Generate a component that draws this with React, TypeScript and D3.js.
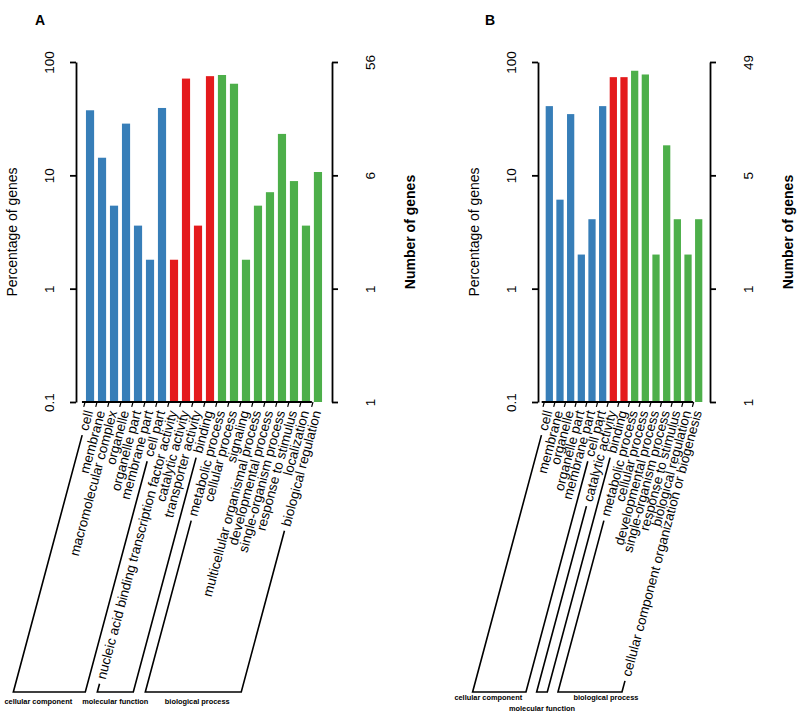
import { useEffect, useRef } from "react";
import * as d3 from "d3";

// GO functional categories (WEGO style), Set1 colours
const groupNames = ["cellular component", "molecular function", "biological process"];
const groupColors = ["#377EB8", "#E41A1C", "#4DAF4A"];

const percentTicks = [0.1, 1, 10, 100];

// panel A
const aTerms = [
  "cell",
  "membrane",
  "macromolecular complex",
  "organelle",
  "organelle part",
  "membrane part",
  "cell part",
  "nucleic acid binding transcription factor activity",
  "catalytic activity",
  "transporter activity",
  "binding",
  "metabolic process",
  "cellular process",
  "signaling",
  "multicellular organismal process",
  "developmental process",
  "single-organism process",
  "response to stimulus",
  "localization",
  "biological regulation",
];
const aTermGroups = [0, 0, 0, 0, 0, 0, 0, 1, 1, 1, 1, 2, 2, 2, 2, 2, 2, 2, 2, 2];
const aPercent = [37.5, 14.3, 5.4, 28.6, 3.6, 1.8, 39.3, 1.8, 71.4, 3.6, 75.0, 76.8, 64.3, 1.8, 5.4, 7.1, 23.2, 8.9, 3.6, 10.7];
const aGeneTicks = ["1", "1", "6", "56"];

// panel B
const bTerms = [
  "cell",
  "membrane",
  "organelle",
  "organelle part",
  "membrane part",
  "cell part",
  "catalytic activity",
  "binding",
  "metabolic process",
  "cellular process",
  "developmental process",
  "single-organism process",
  "response to stimulus",
  "biological regulation",
  "cellular component organization or biogenesis",
];
const bTermGroups = [0, 0, 0, 0, 0, 0, 1, 1, 2, 2, 2, 2, 2, 2, 2];
const bPercent = [40.8, 6.1, 34.7, 2.0, 4.1, 40.8, 73.5, 73.5, 83.7, 77.6, 2.0, 18.4, 4.1, 2.0, 4.1];
const bGeneTicks = ["1", "1", "5", "49"];

const panels = [
  {
    id: "A", terms: aTerms, groups: aTermGroups, values: aPercent, geneTicks: aGeneTicks,
    left: 76, right: 332, outerPad: 0.83, letterX: 35,
    groupLabelY: [704, 704, 704], groupLabelDx: [-11, 0, 4],
  },
  {
    id: "B", terms: bTerms, groups: bTermGroups, values: bPercent, geneTicks: bGeneTicks,
    left: 538, right: 710, outerPad: 0.72, letterX: 485,
    groupLabelY: [699.5, 710.5, 699.5], groupLabelDx: [-11, 0, 16],
  },
];

const FONT = "'Liberation Sans', Arial, sans-serif";
const TOP = 62;
const BASE = 402;
const BRACKET_Y = 692;
const ANGLE = 75;

export default function App() {
  const svgRef = useRef<SVGSVGElement>(null);

  useEffect(() => {
    document.body.style.margin = "0";
    if (!svgRef.current) return;
    const svg = d3.select(svgRef.current);
    svg.selectAll("*").remove();

    const rad = (ANGLE * Math.PI) / 180;
    const ux = -Math.cos(rad);
    const uy = Math.sin(rad);

    const y = d3.scaleLog().domain([0.1, 100]).range([BASE, TOP]);

    panels.forEach((p) => {
      const g = svg.append("g").attr("font-family", FONT);

      const x = d3
        .scaleBand()
        .domain(p.terms)
        .range([p.left, p.right])
        .paddingInner(0.32)
        .paddingOuter(p.outerPad);
      const bw = x.bandwidth();

      // bars
      g.selectAll(".bar")
        .data(p.terms)
        .enter()
        .append("rect")
        .attr("x", (d) => x(d)!)
        .attr("y", (d, i) => y(p.values[i]))
        .attr("width", bw)
        .attr("height", (d, i) => BASE - y(p.values[i]))
        .attr("fill", (d, i) => groupColors[p.groups[i]]);

      // left axis (percentage)
      const la = g
        .append("g")
        .attr("transform", `translate(${p.left},0)`)
        .call(d3.axisLeft(y).tickValues(percentTicks).tickSize(6).tickSizeOuter(0).tickFormat((d) => String(d)));
      // right axis (gene number)
      const ra = g
        .append("g")
        .attr("transform", `translate(${p.right},0)`)
        .call(
          d3
            .axisRight(y)
            .tickValues(percentTicks)
            .tickSize(6)
            .tickSizeOuter(0)
            .tickFormat((d, i) => p.geneTicks[i])
        );
      [la, ra].forEach((ax) => {
        ax.selectAll("path,line").attr("stroke", "#000").attr("stroke-width", 1.8);
        ax.selectAll("text").attr("font-family", FONT).attr("font-size", 13.5).attr("fill", "#000");
      });
      la.selectAll("text")
        .attr("transform", "rotate(-90)")
        .attr("x", 0)
        .attr("y", -22)
        .attr("dy", 0)
        .attr("text-anchor", "middle");
      ra.selectAll("text")
        .attr("transform", "rotate(-90)")
        .attr("x", 0)
        .attr("y", 43)
        .attr("dy", 0)
        .attr("text-anchor", "middle");

      const midY = (TOP + BASE) / 2;
      g.append("text")
        .attr("transform", `translate(${p.left - 59},${midY}) rotate(-90)`)
        .attr("text-anchor", "middle")
        .attr("font-size", 14)
        .text("Percentage of genes");
      g.append("text")
        .attr("transform", `translate(${p.right + 83},${midY}) rotate(-90)`)
        .attr("text-anchor", "middle")
        .attr("font-size", 14)
        .attr("font-weight", "bold")
        .text("Number of genes");

      g.append("text")
        .attr("x", p.letterX)
        .attr("y", 25)
        .attr("font-size", 14)
        .attr("font-weight", "bold")
        .text(p.id);

      // bottom axis line
      const first = p.terms[0];
      const last = p.terms[p.terms.length - 1];
      g.append("line")
        .attr("x1", x(first)! - 4)
        .attr("x2", x(last)! - 2)
        .attr("y1", BASE)
        .attr("y2", BASE)
        .attr("stroke", "#000")
        .attr("stroke-width", 1.8);

      // slanted term labels
      const ends: { x: number; y: number }[] = [];
      p.terms.forEach((t) => {
        const cx = x(t)! + bw / 2 + 1;
        g.append("line")
          .attr("x1", cx - 6)
          .attr("y1", BASE)
          .attr("x2", cx - 6 + ux * 5)
          .attr("y2", BASE + uy * 5)
          .attr("stroke", "#000")
          .attr("stroke-width", 1.2);
        const d0 = 9;
        const px = cx + ux * d0;
        const py = BASE + uy * d0;
        const txt = g
          .append("text")
          .attr("transform", `translate(${px},${py}) rotate(${-ANGLE})`)
          .attr("text-anchor", "end")
          .attr("dy", "0.35em")
          .attr("font-size", 13.5)
          .text(t);
        const len = (txt.node() as SVGTextElement).getComputedTextLength();
        ends.push({ x: px + ux * (len + 5), y: py + uy * (len + 5) });
      });

      // group brackets
      groupNames.forEach((name, gi) => {
        const idx = p.groups.map((v, i) => (v === gi ? i : -1)).filter((i) => i >= 0);
        if (!idx.length) return;
        const s0 = ends[idx[0]];
        const s1 = ends[idx[idx.length - 1]];
        const b0x = s0.x + (ux * (BRACKET_Y - s0.y)) / uy;
        const b1x = s1.x + (ux * (BRACKET_Y - s1.y)) / uy;
        const path = d3.path();
        path.moveTo(s0.x, s0.y);
        path.lineTo(b0x, BRACKET_Y);
        path.lineTo(b1x, BRACKET_Y);
        path.lineTo(s1.x, s1.y);
        g.append("path")
          .attr("d", path.toString())
          .attr("fill", "none")
          .attr("stroke", "#000")
          .attr("stroke-width", 1.6);
        g.append("text")
          .attr("x", (b0x + b1x) / 2 + p.groupLabelDx[gi])
          .attr("y", p.groupLabelY[gi])
          .attr("text-anchor", "middle")
          .attr("font-size", 7.4)
          .attr("font-weight", "bold")
          .text(name);
      });
    });
  }, []);

  return (
    <svg
      ref={svgRef}
      width={800}
      height={717}
      style={{ display: "block", background: "#fff" }}
    />
  );
}
